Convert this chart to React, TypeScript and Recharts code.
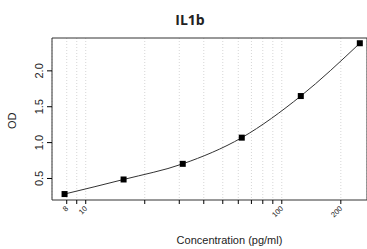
import React from "react";
import {
  ComposedChart,
  Line,
  Scatter,
  XAxis,
  YAxis,
  CartesianGrid,
  ReferenceArea,
} from "recharts";

// standard concentrations (pg/ml) and measured OD
const concentrations = [7.8, 15.6, 31.25, 62.5, 125, 250];
const odValues = [0.283, 0.486, 0.704, 1.069, 1.649, 2.385];

const xTicks = [8, 9, 10, 20, 30, 40, 50, 60, 70, 80, 90, 100, 200];
const xLabels = [8, 10, 100, 200];
const yTicks = [0.5, 1.0, 1.5, 2.0];

const X_DOMAIN: [number, number] = [6.73, 272];
const Y_DOMAIN: [number, number] = [0.2, 2.458];

const data = concentrations.map((c, i) => ({ conc: c, od: odValues[i] }));

const FONT = "'Liberation Sans', Arial, sans-serif";

const XTick = ({ x, y, payload }: any) => {
  if (!xLabels.includes(payload.value)) return null;
  return (
    <text
      x={0}
      y={0}
      transform={`translate(${x + 2},${y + 3}) rotate(-45)`}
      textAnchor="end"
      fontSize={7.5}
      fontFamily={FONT}
      fill="#222"
    >
      {payload.value}
    </text>
  );
};

const YTick = ({ x, y, payload }: any) => (
  <text
    x={0}
    y={0}
    transform={`translate(${x - 2},${y}) rotate(-90)`}
    textAnchor="middle"
    fontSize={11}
    fontFamily={FONT}
    fill="#222"
  >
    {payload.value.toFixed(1)}
  </text>
);

const SquareDot = (props: any) => {
  const { cx, cy } = props;
  return <rect x={cx - 3} y={cy - 3} width={6} height={6} fill="#000" />;
};

export default function App() {
  return (
    <div style={{ position: "absolute", left: 0, top: 0, width: 367, height: 249, background: "#fff" }}>
      <ComposedChart
        width={367}
        height={249}
        data={data}
        margin={{ top: 38, right: 0, left: 0, bottom: 0 }}
      >
        <text
          x={190}
          y={25}
          textAnchor="middle"
          fontSize={14}
          fontWeight="bold"
          fontFamily="'Open Sans', sans-serif"
          fill="#222"
        >
          IL1b
        </text>
        <CartesianGrid
          horizontal={false}
          stroke="#d6d6d6"
          strokeDasharray="1 2"
        />
        <XAxis
          dataKey="conc"
          type="number"
          scale="log"
          domain={X_DOMAIN}
          allowDataOverflow
          ticks={xTicks}
          interval={0}
          height={49}
          axisLine={false}
          tickLine={{ stroke: "#000" }}
          tickSize={4}
          tick={<XTick />}
          label={{
            value: "Concentration (pg/ml)",
            position: "insideBottom",
            offset: 5,
            fontSize: 11,
            fontFamily: FONT,
            fill: "#222",
            dx: 20,
          }}
        />
        <YAxis
          type="number"
          domain={Y_DOMAIN}
          allowDataOverflow
          ticks={yTicks}
          width={52}
          axisLine={false}
          tickLine={{ stroke: "#000" }}
          tickSize={5}
          tick={<YTick />}
          label={{
            value: "OD",
            angle: -90,
            position: "insideLeft",
            offset: 12,
            fontSize: 11,
            fontFamily: FONT,
            fill: "#222",
            dy: 10,
          }}
        />
        <ReferenceArea
          x1={X_DOMAIN[0]}
          x2={X_DOMAIN[1]}
          y1={Y_DOMAIN[0]}
          y2={Y_DOMAIN[1]}
          fill="none"
          stroke="#333"
          strokeWidth={1}
          ifOverflow="visible"
        />
        <Line
          dataKey="od"
          type="monotone"
          stroke="#333"
          strokeWidth={1}
          dot={false}
          isAnimationActive={false}
        />
        <Scatter dataKey="od" shape={<SquareDot />} isAnimationActive={false} />
      </ComposedChart>
    </div>
  );
}
